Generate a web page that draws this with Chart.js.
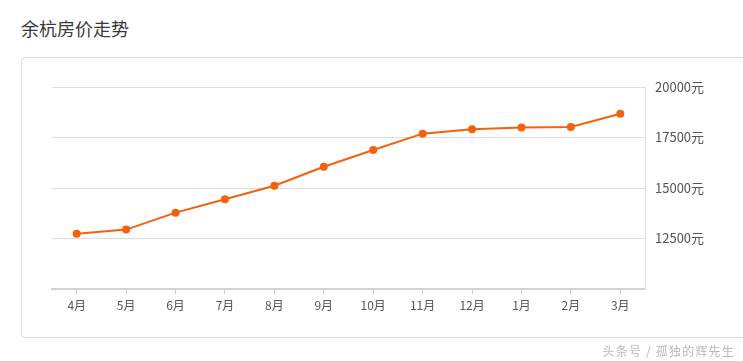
<!DOCTYPE html>
<html lang="zh">
<head>
  <meta charset="UTF-8">
  <title>余杭房价走势</title>
  <script src="https://cdn.jsdelivr.net/npm/chart.js@4.4.1/dist/chart.umd.min.js"></script>
  <style>
    * {box-sizing:border-box;margin:0;padding:0;}
    html,body {width:743px;height:361px;overflow:hidden;background:#fff;font-family:'Noto Sans CJK SC','Noto Sans',sans-serif;}
    .title {position:absolute;left:21px;top:15px;font-size:18px;color:#3a3a3a;}
    .card {position:absolute;left:21px;top:57px;width:760px;height:281px;border:1px solid #ddd;border-radius:4px;}
    #wrap {position:absolute;left:0;top:0;width:743px;height:361px;}
    .mark {position:absolute;right:8px;top:342px;font-size:12px;letter-spacing:1.2px;color:#b8b8b8;}
  </style>
</head>
<body>
  <div class="title">余杭房价走势</div>
  <div class="card"></div>
  <div id="wrap"><canvas id="chart"></canvas></div>
  <div class="mark">头条号 / 孤独的辉先生</div>
  <script>
    const months = ['4月','5月','6月','7月','8月','9月','10月','11月','12月','1月','2月','3月'];
    const prices = [12740, 12940, 13780, 14440, 15110, 16050, 16880, 17690, 17910, 17990, 18020, 18680];
    const yTicks = [10000, 12500, 15000, 17500, 20000];

    const font = {family:"'Noto Sans CJK SC','Noto Sans',sans-serif", size:12};

    new Chart(document.getElementById('chart'), {
      type:'line',
      data:{
        labels:months,
        datasets:[{
          data:prices,
          borderColor:'#f4600c',
          backgroundColor:'#f4600c',
          borderWidth:2,
          pointRadius:4,
          pointHoverRadius:4,
          pointBorderWidth:0,
          tension:0
        }]
      },
      options:{
        responsive:true,
        maintainAspectRatio:false,
        animation:false,
        layout:{padding:{left:52, top:87, right:0, bottom:0}},
        plugins:{legend:{display:false}, tooltip:{enabled:false}},
        scales:{
          x:{
            offset:true,
            grid:{offset:false, drawOnChartArea:false, drawTicks:true, tickLength:5, color:'#ccc'},
            border:{color:'#d4d4d4', width:2},
            ticks:{color:'#555', font:font, padding:4, maxRotation:0, autoSkip:false},
            afterFit(s){ s.height = 72; }
          },
          y:{
            position:'right',
            min:10000, max:20000,
            afterBuildTicks(s){ s.ticks = yTicks.map(v=>({value:v})); },
            grid:{color:'#ddd', drawTicks:false},
            border:{display:true, color:'#ddd'},
            ticks:{color:'#555', font:{family:font.family, size:13}, padding:10, callback:v => v === 10000 ? '' : v + '元'},
            afterFit(s){ s.width = 98; }
          }
        }
      }
    });
  </script>
</body>
</html>
